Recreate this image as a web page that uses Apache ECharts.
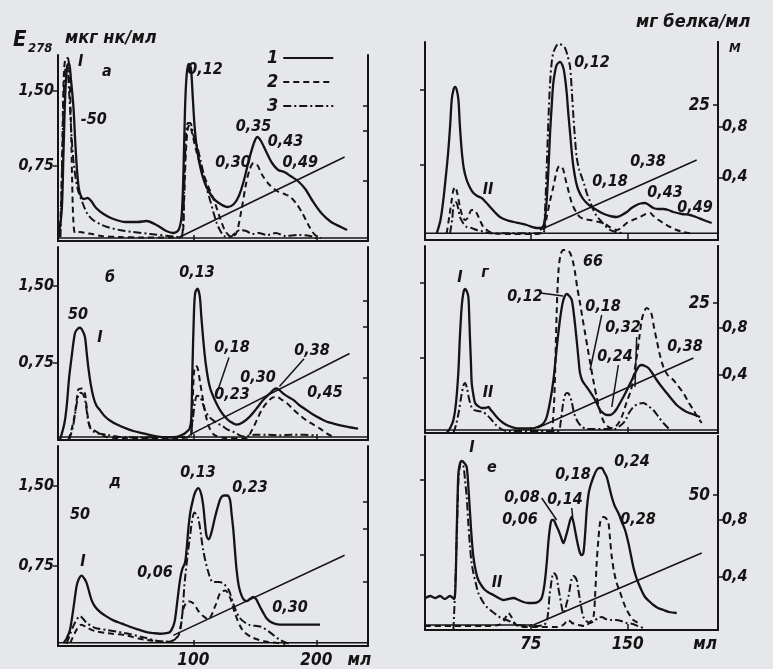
<!DOCTYPE html>
<html><head><meta charset="utf-8">
<script src="https://cdn.jsdelivr.net/npm/echarts@6/dist/echarts.min.js"></script>
<style>html,body{margin:0;padding:0;background:#e5e7ea}#c{width:773px;height:669px}</style>
</head><body><div id="c"></div><script>
// ---------- DATA (x: ml, y: E278 units) ----------
// Panel а
const a1=[[-9.8,0.03],[-7,0.3],[-5.5,0.9],[-4,1.5],[-2.5,1.75],[-1,1.78],[0.5,1.62],[2.5,1.35],[4,1.0],[5.5,0.7],[7,0.52],[9,0.44],[11,0.42],[14,0.43],[17,0.40],[21,0.33],[27,0.27],[35,0.22],[45,0.19],[55,0.19],[62,0.2],[70,0.16],[78,0.1],[84,0.08],[88,0.11],[90.5,0.25],[92,0.7],[93.2,1.3],[94.5,1.65],[96.2,1.77],[98,1.73],[99.5,1.45],[101,1.15],[103,0.92],[106,0.72],[110,0.56],[116,0.43],[122,0.37],[128,0.34],[133,0.37],[137,0.45],[141,0.6],[145,0.8],[149,0.97],[152,1.04],[155,1.0],[159,0.9],[164,0.78],[169,0.71],[174,0.69],[179,0.65],[185,0.6],[191,0.52],[197,0.4],[204,0.28],[212,0.19],[220,0.14],[225,0.11]];
const a2=[[-8.5,0.04],[-7,0.6],[-6,1.3],[-5,1.72],[-3.5,1.83],[-2,1.83],[-0.8,1.7],[0.5,1.2],[1.5,0.6],[2.5,0.2],[4,0.08],[8,0.09],[12,0.08],[18,0.07],[25,0.05],[40,0.04],[60,0.035],[85,0.035],[91,0.05],[92.5,0.4],[94,0.9],[95.5,1.12],[97,1.16],[99,1.08],[102,0.92],[106,0.75],[111,0.58],[117,0.4],[122,0.22],[126,0.1],[131,0.04],[135,0.08],[139,0.3],[143,0.58],[146,0.72],[149,0.78],[152,0.76],[156,0.66],[162,0.56],[168,0.5],[174,0.47],[179,0.44],[184,0.37],[189,0.27],[194,0.15],[199,0.06],[204,0.03]];
const a3=[[-8,0.04],[-6.5,0.8],[-5.2,1.5],[-3.8,1.72],[-2.5,1.72],[-1,1.5],[1,1.05],[3,0.75],[6,0.52],[10,0.38],[14,0.27],[18.5,0.21],[24,0.17],[30,0.14],[40,0.11],[51,0.09],[65,0.07],[80,0.05],[88,0.04],[91,0.06],[92.5,0.5],[93.8,1.0],[95.5,1.18],[97.5,1.18],[100,1.06],[103,0.95],[106,0.8],[108.5,0.66],[111,0.52],[113.6,0.41],[116.5,0.28],[119,0.18],[122,0.1],[125,0.05],[130,0.04],[134,0.08],[138,0.11],[143,0.1],[148,0.07],[153,0.08],[160,0.06],[167,0.08],[175,0.05],[185,0.06],[195,0.05],[200,0.03]];
const aBase=[[-10,0.03],[242,0.03]];
const aGrad=[[89,0.04],[223,0.84]];
const aLabels=[[109.5,1.71,'0,12'],[149,1.14,'0,35'],[175,0.99,'0,43'],[132.3,0.78,'0,30'],[187,0.78,'0,49'],[29.8,1.69,'а'],[8.5,1.79,'I'],[19,1.21,'-50']];
const aLeaders=[];
// Panel б
const b1=[[-8.4,0.0],[-5,0.15],[-3,0.32],[-1,0.6],[1.1,0.81],[3.8,1.04],[6,1.08],[7.9,1.09],[10,1.06],[11.9,1.0],[13.3,0.85],[14.6,0.71],[16.5,0.55],[18.7,0.42],[21,0.34],[24.1,0.29],[28,0.23],[32.2,0.19],[38,0.15],[45.8,0.11],[52,0.085],[59.3,0.065],[66,0.045],[72.9,0.03],[80,0.025],[86.4,0.03],[91,0.05],[94.6,0.08],[97,0.11],[98.3,0.2],[99.3,0.7],[100.3,1.15],[101.4,1.42],[103.3,1.47],[105.2,1.4],[106.5,1.2],[108.1,0.97],[110,0.75],[112.2,0.58],[114,0.49],[116.3,0.42],[119,0.35],[121.7,0.29],[126,0.22],[129.8,0.18],[135.2,0.15],[140,0.17],[146.1,0.23],[151,0.3],[156.9,0.39],[162,0.45],[165.5,0.49],[167.8,0.5],[170.5,0.48],[173.2,0.45],[177,0.42],[181.3,0.39],[186,0.34],[192.1,0.29],[197,0.25],[203,0.21],[208,0.18],[213.8,0.16],[224.7,0.13],[234,0.11]];
const b2=[[-1.6,0.0],[1,0.1],[3.8,0.26],[5.5,0.42],[6.5,0.49],[9.2,0.5],[11.9,0.45],[13,0.35],[13.8,0.26],[16,0.13],[18.5,0.1],[21.4,0.08],[29.5,0.03],[40,0.02],[90,0.02],[98,0.04],[99.3,0.3],[100.5,0.65],[102,0.72],[103.5,0.7],[105.5,0.56],[108,0.38],[110.5,0.22],[113,0.12],[117,0.05],[125,0.02],[140,0.015],[143.4,0.02],[147,0.08],[151.5,0.19],[155,0.28],[159.6,0.36],[164,0.41],[167.8,0.42],[172,0.39],[175.9,0.36],[181,0.3],[186.7,0.24],[192,0.19],[197.6,0.15],[203,0.11],[208.4,0.065],[213.8,0.03]];
const b3=[[-1,0.0],[2,0.12],[4.5,0.3],[6.5,0.43],[8.5,0.46],[10.5,0.44],[12.5,0.36],[14,0.22],[16,0.12],[19,0.08],[24,0.06],[30,0.05],[40,0.03],[60,0.025],[90,0.03],[97,0.04],[99.5,0.2],[101.5,0.38],[103,0.43],[105.4,0.42],[107.5,0.36],[109.5,0.29],[112.5,0.23],[116.3,0.19],[120,0.16],[124.4,0.13],[128,0.1],[132.5,0.08],[137,0.05],[140.6,0.035],[150,0.05],[160,0.05],[170,0.045],[180,0.05],[190,0.05],[198,0.045]];
const bBase=[[-10,0.03],[242,0.03]];
const bGrad=[[97,0.05],[227,0.84]];
const bLabels=[[103,1.62,'0,13'],[131.5,0.89,'0,18'],[131.5,0.44,'0,23'],[152.6,0.6,'0,30'],[196.5,0.87,'0,38'],[207,0.46,'0,45'],[32.3,1.57,'б'],[24.1,0.99,'I'],[6.3,1.22,'50']];
const bLeaders=[[[129,0.8],[119,0.45]],[[190,0.79],[170,0.52]]];
// Panel д
const d1=[[-5.7,0.025],[-3,0.07],[-0.3,0.15],[2.5,0.35],[5.1,0.56],[7,0.63],[9.2,0.66],[11.5,0.63],[13.3,0.59],[15.5,0.5],[17.3,0.43],[20,0.37],[24.1,0.32],[29,0.28],[35,0.24],[42,0.21],[48.5,0.18],[55,0.155],[62,0.13],[68,0.12],[72.9,0.115],[78,0.12],[81,0.13],[83.5,0.18],[85,0.24],[87,0.42],[89.2,0.62],[91,0.72],[93.2,0.78],[94.5,0.9],[95.9,1.09],[97.5,1.25],[99.5,1.36],[101.5,1.44],[104.1,1.48],[106.5,1.42],[108.1,1.31],[109.5,1.15],[110.8,1.03],[112.5,1.0],[114.9,1.07],[117.5,1.2],[120.3,1.32],[122.5,1.39],[124.9,1.41],[127.5,1.41],[129.8,1.37],[131,1.25],[132.5,1.09],[133.8,0.9],[135.2,0.71],[137,0.56],[139.3,0.47],[141.5,0.43],[143.4,0.42],[146,0.44],[148.8,0.46],[151,0.44],[152.8,0.4],[155,0.35],[156.9,0.31],[159.5,0.26],[162.3,0.23],[166,0.21],[170.5,0.2],[186.7,0.2],[203,0.2]];
const d2=[[0,0.03],[5,0.15],[9,0.2],[14,0.17],[20,0.14],[30,0.12],[45,0.1],[60,0.06],[80,0.04],[88,0.1],[92,0.35],[96,0.42],[100,0.4],[104,0.33],[108,0.28],[112,0.25],[118,0.38],[122,0.5],[126,0.52],[130,0.45],[134,0.3],[140,0.15],[148,0.08],[160,0.04],[175,0.02]];
const d3=[[-3,0.02],[3,0.2],[8,0.28],[13,0.22],[20,0.17],[30,0.15],[45,0.12],[60,0.08],[75,0.04],[85,0.06],[90,0.2],[93,0.6],[97,1.0],[101,1.25],[104,1.2],[108,0.9],[112,0.7],[116,0.6],[121,0.6],[125,0.58],[129,0.52],[133,0.38],[138,0.26],[145,0.2],[155,0.18],[162,0.13],[170,0.06],[178,0.02]];
const dBase=[[-10,0.03],[242,0.03]];
const dGrad=[[83.7,0.1],[223,0.85]];
const dLabels=[[103.8,1.62,'0,13'],[146,1.48,'0,23'],[68.9,0.69,'0,06'],[178.6,0.36,'0,30'],[36.3,1.54,'д'],[10.3,0.79,'I'],[7.9,1.23,'50']];
const dLeaders=[];
// Right panel (top)
const v1=[[2.1,0.067],[5,0.2],[7.2,0.4],[9.5,0.68],[11.1,0.9],[12.5,1.15],[13.7,1.4],[15,1.5],[16.3,1.53],[17.6,1.5],[18.9,1.4],[20,1.15],[21.4,0.9],[23,0.72],[25.3,0.6],[28,0.52],[30.5,0.47],[33.5,0.44],[36.9,0.42],[40,0.38],[43.4,0.33],[47,0.28],[51.1,0.23],[56,0.2],[61.5,0.18],[67,0.165],[71.8,0.15],[76,0.13],[79.5,0.12],[82.5,0.12],[84.7,0.14],[86,0.22],[87.3,0.4],[88.6,0.7],[89.9,1.07],[91.2,1.35],[92.4,1.57],[93.7,1.68],[95,1.75],[97.6,1.78],[100.2,1.72],[101.5,1.62],[102.8,1.47],[104,1.27],[105.4,1.07],[106.7,0.88],[108,0.73],[110,0.58],[111.8,0.5],[115,0.42],[118.3,0.37],[122,0.33],[126,0.3],[130,0.27],[133.8,0.25],[138,0.235],[141.5,0.23],[145.5,0.25],[149.3,0.28],[153,0.32],[157,0.35],[160,0.365],[163.5,0.37],[166.5,0.35],[169.9,0.32],[173.5,0.31],[177.7,0.31],[181.5,0.3],[185.4,0.28],[192,0.26],[198.3,0.25],[203,0.23],[208.7,0.2],[215.1,0.17]];
const v2=[[9.8,0.067],[12,0.25],[13.7,0.4],[15,0.5],[16.3,0.53],[17.8,0.48],[20.1,0.33],[22,0.24],[24,0.2],[26,0.22],[29.2,0.3],[31,0.3],[33,0.27],[35.5,0.2],[38.2,0.13],[42,0.09],[46,0.067],[60,0.06],[80,0.06],[85,0.1],[87.3,0.23],[90,0.4],[92.4,0.53],[94.5,0.66],[96.3,0.73],[98.2,0.74],[100.2,0.7],[102,0.6],[104,0.5],[106,0.4],[108,0.33],[110.5,0.27],[113,0.23],[116.5,0.21],[120.9,0.2],[126,0.185],[131.2,0.17],[136,0.13],[141.5,0.1],[145,0.12],[149.3,0.17],[154,0.2],[159.6,0.23],[164,0.26],[167.4,0.27],[170,0.24],[174,0.2],[177.7,0.17],[183,0.13],[188,0.1],[193,0.08],[198.3,0.067]];
const v3=[[12.4,0.067],[14,0.2],[15,0.33],[16.5,0.38],[17.6,0.37],[19,0.3],[20.1,0.23],[22.5,0.17],[25.3,0.13],[29,0.12],[33,0.1],[38,0.085],[43.4,0.067],[84.7,0.067],[86,0.3],[87.3,0.73],[88.6,1.2],[89.9,1.57],[91.2,1.78],[92.4,1.87],[94.3,1.93],[96.3,1.96],[99,1.95],[101.5,1.92],[103.5,1.84],[105.4,1.73],[106.7,1.5],[108,1.23],[109.3,1.0],[110.5,0.83],[112.5,0.7],[114.4,0.63],[116.5,0.55],[118.3,0.47],[121,0.38],[123.5,0.3],[126,0.24],[128.6,0.2],[132,0.15],[136.4,0.1],[141,0.08],[146.7,0.067]];
const vBase=[[-7,0.067],[220,0.067]];
const vGrad=[[82,0.1],[203.5,0.8]];
const vLabels=[[122.4,1.77,'0,12'],[165.8,0.78,'0,38'],[136.4,0.58,'0,18'],[179,0.47,'0,43'],[202.2,0.32,'0,49'],[41.8,0.5,'II']];
const vLeaders=[];
// Panel г
const g1=[[9.8,0.0],[12.5,0.05],[15,0.13],[17,0.3],[18.8,0.6],[20,0.95],[21.4,1.26],[22.7,1.4],[24,1.44],[25.3,1.42],[26.6,1.36],[27.3,1.15],[27.9,0.93],[28.6,0.7],[29.2,0.5],[30.5,0.38],[31.8,0.3],[34,0.27],[36.9,0.25],[39.5,0.25],[42.1,0.26],[44,0.23],[46,0.2],[50,0.14],[53.7,0.1],[58,0.07],[64,0.047],[70,0.045],[77,0.047],[80,0.06],[83.4,0.08],[85.5,0.11],[87.3,0.16],[90,0.32],[92.5,0.53],[94.5,0.78],[96.3,1.0],[98.3,1.2],[100.2,1.33],[102.8,1.39],[104.8,1.37],[106.7,1.33],[108.5,1.17],[110.5,0.93],[112,0.73],[113.1,0.6],[115,0.52],[118.3,0.46],[121,0.41],[123.5,0.36],[126,0.3],[128.6,0.23],[131,0.2],[133.8,0.18],[136.5,0.18],[139,0.2],[141.5,0.24],[144.1,0.3],[147.5,0.38],[150.6,0.46],[154,0.55],[157,0.63],[159,0.67],[160.9,0.68],[163.5,0.67],[166.1,0.65],[169,0.6],[172.5,0.53],[176.5,0.46],[180.3,0.4],[184,0.34],[188,0.28],[192,0.24],[195.8,0.21],[200,0.19],[206.1,0.16]];
const g2=[[91.5,0.0],[93,0.3],[94,0.7],[95,1.2],[96.3,1.6],[98,1.78],[100.2,1.83],[103,1.83],[105.4,1.8],[107.5,1.72],[109.3,1.6],[111,1.45],[113.1,1.3],[115,1.15],[117,1.0],[119,0.85],[121,0.7],[123.5,0.52],[126,0.36],[128.6,0.22],[131.2,0.12],[134,0.07],[137,0.05],[140,0.06],[143,0.1],[146,0.18],[149,0.3],[152.6,0.43],[155,0.6],[157,0.76],[159,0.95],[160.9,1.13],[163,1.22],[164.8,1.25],[166.8,1.23],[168.7,1.18],[170.5,1.05],[172.5,0.93],[175,0.78],[177.7,0.66],[181,0.58],[185.4,0.53],[189,0.47],[193.2,0.4],[197,0.31],[201,0.23],[204,0.16],[207.4,0.1]];
const g3=[[15,0.0],[17,0.08],[19,0.2],[21,0.36],[22.7,0.47],[24,0.5],[25.5,0.45],[27,0.35],[29,0.26],[31,0.23],[34,0.22],[38,0.21],[41,0.18],[44,0.14],[48,0.08],[52,0.04],[56,0.02],[96,0.02],[98,0.1],[100,0.3],[101.5,0.38],[102.8,0.4],[104.5,0.39],[106.5,0.32],[108.5,0.2],[111,0.12],[114,0.07],[118,0.04],[140,0.04],[144,0.07],[148,0.12],[151,0.2],[154.4,0.26],[158,0.29],[162.2,0.3],[166,0.27],[169.9,0.23],[174,0.16],[177.7,0.1],[182.9,0.03]];
const gBase=[[-7,0.03],[220,0.03]];
const gGrad=[[80,0.05],[201,0.75]];
const gLabels=[[70.5,1.36,'0,12'],[131,1.26,'0,18'],[146.4,1.05,'0,32'],[140.2,0.76,'0,24'],[194.5,0.86,'0,38'],[123.2,1.71,'66'],[20.1,1.55,'I'],[39.5,1.6,'г'],[41.8,0.4,'II']];
const gLeaders=[[[82.5,1.4],[100,1.37]],[[129.9,1.18],[120.9,0.63]],[[142.8,0.68],[137.7,0.26]],[[157,0.96],[155.7,0.46]]];
// Panel е
const e1=[[-6.5,0.32],[-3,0.34],[0.8,0.32],[4.6,0.34],[8.5,0.31],[12.4,0.34],[15.5,0.31],[16.5,0.4],[17.6,1.0],[18.3,1.35],[18.9,1.57],[20,1.66],[21.4,1.69],[23.5,1.67],[25.3,1.63],[26.5,1.45],[27.9,1.17],[29,0.95],[30.5,0.73],[32.5,0.58],[34.3,0.5],[37,0.44],[39.5,0.4],[43,0.37],[46,0.35],[50,0.32],[53.7,0.3],[57.5,0.31],[61.5,0.32],[65.5,0.3],[69.2,0.28],[73,0.27],[77,0.27],[80.5,0.28],[83.4,0.32],[85.5,0.45],[87.3,0.67],[88.6,0.88],[89.9,1.03],[91.2,1.1],[92.5,1.1],[94.5,1.05],[96.3,1.0],[98.3,0.93],[100.2,0.87],[102,0.93],[104.1,1.03],[105.5,1.1],[106.7,1.13],[108,1.08],[109.2,1.0],[111,0.88],[113.1,0.77],[114.5,0.75],[115.7,0.77],[117,0.95],[118.3,1.2],[119.6,1.35],[120.9,1.43],[123.5,1.53],[126,1.6],[128,1.62],[129.9,1.62],[131.8,1.58],[133.8,1.53],[135.8,1.43],[137.7,1.33],[140,1.24],[142.8,1.17],[145.5,1.08],[148,1.0],[150.6,0.87],[152.5,0.75],[154.4,0.63],[156.3,0.54],[158.3,0.47],[161,0.39],[163.5,0.33],[166.5,0.29],[170,0.25],[173.5,0.22],[177.7,0.2],[182,0.18],[188,0.17]];
const e2=[[-7,0.04],[40,0.04],[50,0.05],[54,0.09],[57.6,0.17],[60,0.13],[63,0.06],[67,0.03],[95,0.03],[100,0.05],[104,0.1],[107,0.07],[112,0.05],[117,0.04],[121,0.08],[123.5,0.13],[124.8,0.35],[126,0.67],[127.3,0.9],[128.6,1.07],[130,1.12],[131.2,1.13],[133,1.12],[135,1.08],[136.3,0.92],[137.7,0.73],[139.5,0.58],[141.5,0.47],[143.5,0.4],[145.4,0.33],[147.3,0.26],[149.3,0.2],[152,0.14],[154.4,0.1],[157,0.08],[159.6,0.07]];
const e3=[[15,0.0],[16,0.3],[17,0.67],[18,1.1],[18.9,1.5],[20,1.64],[20.7,1.67],[22.7,1.64],[24,1.5],[25.3,1.33],[26.5,1.08],[27.9,0.83],[29,0.68],[30.5,0.57],[32.5,0.46],[34.3,0.37],[37.5,0.29],[40.8,0.23],[44.5,0.19],[48.6,0.15],[52,0.12],[56.3,0.1],[60,0.08],[65,0.05],[75,0.04],[85,0.05],[87.5,0.1],[88.6,0.2],[89.5,0.35],[90.4,0.43],[91.5,0.53],[92.5,0.57],[93.8,0.56],[95,0.53],[96.3,0.42],[97.6,0.33],[98.8,0.24],[100.2,0.17],[101.5,0.2],[102.8,0.27],[104.1,0.33],[105.5,0.44],[106.8,0.52],[108,0.54],[109.2,0.53],[110.5,0.5],[111.8,0.4],[113.1,0.3],[114.4,0.2],[115.7,0.13],[118,0.09],[120.9,0.07],[124,0.09],[127,0.12],[130,0.13],[133,0.11],[137,0.1],[141,0.1],[145,0.09],[149,0.07],[154,0.06],[158,0.04],[162,0.02]];
const eBase=[[-7,0.05],[77,0.05]];
const eGrad=[[77,0.05],[207.4,0.77]];
const eLabels=[[153.4,1.68,'0,24'],[107.7,1.55,'0,18'],[68.2,1.32,'0,08'],[101.5,1.3,'0,14'],[66.6,1.1,'0,06'],[158,1.1,'0,28'],[29.4,1.82,'I'],[44.9,1.62,'е'],[48.8,0.47,'II']];
const eLeaders=[[[83.4,1.32],[95,1.1]],[[106.7,1.22],[107.4,1.13]]];

// tick labels
const eTicks=[0.75,1.5];
const leftXTicks=[100,200];
const rightXTicks=[75,150];
const mTicks=[0.4,0.8];

// ---------- LAYOUT ----------
const INK='#141414';
const FONT='"DejaVu Sans Condensed","DejaVu Sans",sans-serif';
const COLS={L:{left:58,width:310,xmin:-10,xmax:242,unitX:235},R:{left:425,width:293,xmin:-7,xmax:220,unitX:210}};
const panels=[
 {col:'L',top:55,h:186,ymax:1.86,c:[a1,a2,a3],base:aBase,grad:aGrad,labels:aLabels,leaders:aLeaders,bottom:false},
 {col:'L',top:247,h:193,ymax:1.874,c:[b1,b2,b3],base:bBase,grad:bGrad,labels:bLabels,leaders:bLeaders,bottom:false},
 {col:'L',top:446,h:200,ymax:1.874,c:[d1,d2,d3],base:dBase,grad:dGrad,labels:dLabels,leaders:dLeaders,bottom:true},
 {col:'R',top:42,h:198,ymax:1.98,pmax:36.7,ptick:25,mmin:-0.1,mmax:1.48,c:[v1,v2,v3],base:vBase,grad:vGrad,labels:vLabels,leaders:vLeaders,bottom:false},
 {col:'R',top:246,h:187,ymax:1.87,pmax:36,ptick:25,mmin:-0.094,mmax:1.5,c:[g1,g2,g3],base:gBase,grad:gGrad,labels:gLabels,leaders:gLeaders,bottom:false},
 {col:'R',top:436,h:194,ymax:1.94,pmax:71.9,ptick:50,mmin:0.03,mmax:1.39,c:[e1,e2,e3],base:eBase,grad:eGrad,labels:eLabels,leaders:eLeaders,bottom:true}
];
const txt=(size)=>({color:INK,fontSize:size,fontStyle:'italic',fontWeight:'bold',fontFamily:FONT});
const lineStyles=[{type:'solid',width:2.3},{type:[6,4],width:2},{type:[8,3,2,3],width:2}];

const grid=[],xAxis=[],yAxis=[],series=[];
panels.forEach((p,i)=>{
  const C=COLS[p.col];
  grid.push({left:C.left,top:p.top,width:C.width,height:p.h,containLabel:false,outerBoundsMode:'none'});
  const xt=p.col==='L'?leftXTicks:rightXTicks;
  xAxis.push({gridIndex:i,type:'value',min:C.xmin,max:C.xmax,
    axisLine:{show:true,onZero:false,lineStyle:{color:INK,width:2}},
    axisTick:{show:true,inside:true,length:6,customValues:xt,lineStyle:{color:INK,width:1.5}},
    axisLabel:{show:p.bottom,customValues:xt.concat([C.unitX]),margin:6,formatter:v=>v===C.unitX?'мл':String(v),...txt(17)},
    splitLine:{show:false}});
  const yl=yAxis.length;
  yAxis.push({gridIndex:i,type:'value',min:0,max:p.ymax,position:'left',
    axisLine:{show:true,onZero:false,lineStyle:{color:INK,width:2}},
    axisTick:{show:true,length:5,customValues:eTicks,lineStyle:{color:INK,width:1.5}},
    axisLabel:{show:p.col==='L',customValues:eTicks,margin:4,formatter:v=>v.toFixed(2).replace('.',','),...txt(16)},
    splitLine:{show:false}});
  if(p.col==='L'){
    yAxis.push({gridIndex:i,type:'value',min:0,max:p.ymax,position:'right',
      axisLine:{show:true,onZero:false,lineStyle:{color:INK,width:2}},
      axisTick:{show:true,inside:true,length:5,customValues:[0.6,1.1,1.35],lineStyle:{color:INK,width:1.5}},
      axisLabel:{show:false},splitLine:{show:false}});
  } else {
    yAxis.push({gridIndex:i,type:'value',min:0,max:p.pmax,position:'right',
      axisLine:{show:true,onZero:false,lineStyle:{color:INK,width:2}},
      axisTick:{show:true,inside:true,length:5,customValues:[p.ptick],lineStyle:{color:INK,width:1.5}},
      axisLabel:{show:true,inside:true,customValues:[p.ptick],margin:8,...txt(17)},splitLine:{show:false}});
    yAxis.push({gridIndex:i,type:'value',min:p.mmin,max:p.mmax,position:'right',
      axisLine:{show:true,onZero:false,lineStyle:{color:INK,width:2}},
      axisTick:{show:true,length:5,customValues:mTicks,lineStyle:{color:INK,width:1.5}},
      axisLabel:{show:true,customValues:mTicks,margin:4,formatter:v=>v.toFixed(1).replace('.',','),...txt(16)},splitLine:{show:false}});
  }
  p.c.forEach((d,k)=>{
    series.push({type:'line',name:String(k+1),xAxisIndex:i,yAxisIndex:yl,data:d,smooth:0.3,symbol:'none',showSymbol:false,silent:true,
      lineStyle:{color:INK,...lineStyles[k]},itemStyle:{color:INK},z:3});
  });
  [p.base,p.grad].concat(p.leaders).forEach(d=>{
    series.push({type:'line',name:'g',xAxisIndex:i,yAxisIndex:yl,data:d,symbol:'none',silent:true,lineStyle:{color:INK,width:1.5},z:2});
  });
  series.push({type:'scatter',name:'lbl',xAxisIndex:i,yAxisIndex:yl,symbolSize:1,silent:true,itemStyle:{color:'transparent',opacity:1},
    data:p.labels.map(l=>({value:[l[0],l[1]],name:l[2]})),
    label:{show:true,position:'inside',formatter:'{b}',opacity:1,textBorderWidth:0,...txt(16)},z:5});
});

const chart=echarts.init(document.getElementById('c'),null,{renderer:'canvas'});
chart.setOption({
  backgroundColor:'#e5e7ea',animation:false,
  grid,xAxis,yAxis,series,
  legend:{data:['1','2','3'],orient:'vertical',left:262,top:44,align:'right',itemWidth:50,itemHeight:12,itemGap:6,
    itemStyle:{opacity:0},textStyle:txt(18),inactiveColor:INK,selectedMode:false},
  graphic:[
    {type:'text',left:13,top:29,style:{text:'E',fill:INK,font:'italic bold 22px '+FONT}},
    {type:'text',left:28,top:42,style:{text:'278',fill:INK,font:'italic bold 13px '+FONT}},
    {type:'text',left:65,top:29,style:{text:'мкг нк/мл',fill:INK,font:'italic bold 18px '+FONT}},
    {type:'text',left:636,top:13,style:{text:'мг белка/мл',fill:INK,font:'italic bold 18px '+FONT}},
    {type:'text',left:729,top:42,style:{text:'М',fill:INK,font:'italic bold 13px '+FONT}}
  ]
});
</script></body></html>
